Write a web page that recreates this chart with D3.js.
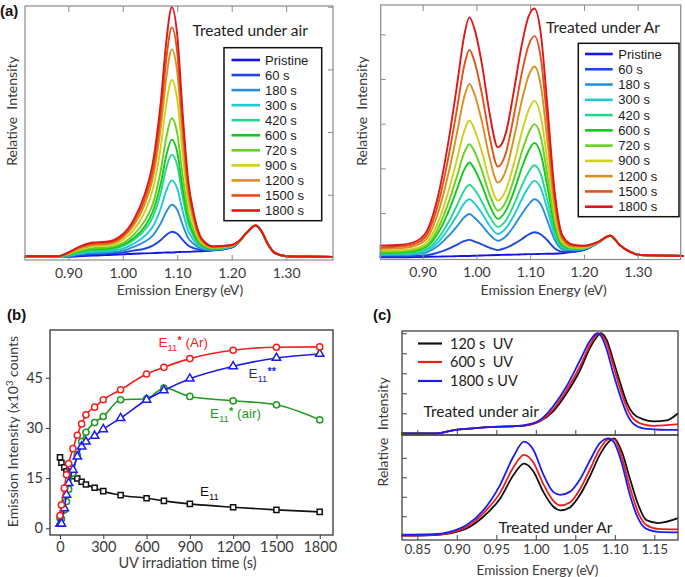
<!DOCTYPE html>
<html><head><meta charset="utf-8">
<script src="https://cdn.jsdelivr.net/npm/d3@7"></script>
<style>body{margin:0;background:#fff}svg{display:block}text{white-space:pre}</style>
</head><body>
<svg id="fig" width="685" height="577"></svg>
<script>
// ---------------- DATA ----------------
// (a) legend / series
const timeLabels = ["Pristine","60 s","180 s","300 s","420 s","600 s","720 s","900 s","1200 s","1500 s","1800 s"];
const timeColors = ["#1414e6","#1c46e0","#2a8ed8","#22c8d6","#22d890","#14c81e","#68d020","#cfcf1c","#d8901e","#e05218","#e0161a"];
const specTicks = [0.90,1.00,1.10,1.20,1.30];

// (a) left: treated under air
const airEnergy = [0.82,0.88,0.90,0.92,0.945,0.97,1.00,1.02,1.04,1.055,1.07,1.08,1.09,1.10,1.11,1.12,1.13,1.145,1.165,1.20,1.213,1.228,1.244,1.256,1.266,1.28,1.30,1.386];
const airSpectra = [
 [0.01,0.01,0.01,0.02,0.03,0.04,0.05,0.06,0.065,0.07,0.075,0.08,0.08,0.085,0.09,0.09,0.095,0.10,0.11,0.16,0.24,0.40,0.51,0.40,0.22,0.07,0.02,0.01],
 [0.01,0.01,0.02,0.03,0.05,0.06,0.08,0.11,0.14,0.19,0.28,0.36,0.41,0.38,0.28,0.19,0.15,0.12,0.12,0.16,0.25,0.40,0.51,0.40,0.22,0.07,0.02,0.01],
 [0.01,0.01,0.02,0.05,0.07,0.08,0.11,0.17,0.25,0.35,0.55,0.73,0.84,0.76,0.52,0.31,0.22,0.14,0.12,0.17,0.25,0.40,0.51,0.40,0.22,0.07,0.02,0.01],
 [0.01,0.01,0.03,0.06,0.09,0.10,0.14,0.22,0.34,0.49,0.79,1.07,1.23,1.10,0.74,0.43,0.28,0.16,0.13,0.17,0.25,0.40,0.51,0.40,0.22,0.07,0.02,0.01],
 [0.01,0.01,0.04,0.08,0.11,0.12,0.18,0.28,0.44,0.64,1.04,1.43,1.64,1.47,0.97,0.55,0.34,0.18,0.14,0.18,0.25,0.40,0.51,0.40,0.22,0.07,0.02,0.01],
 [0.01,0.01,0.04,0.09,0.13,0.14,0.20,0.31,0.49,0.73,1.19,1.63,1.88,1.68,1.10,0.62,0.38,0.19,0.14,0.18,0.25,0.40,0.51,0.40,0.22,0.07,0.02,0.01],
 [0.02,0.02,0.05,0.10,0.15,0.16,0.23,0.36,0.58,0.85,1.40,1.92,2.22,1.98,1.30,0.72,0.44,0.21,0.15,0.18,0.25,0.40,0.51,0.40,0.22,0.07,0.02,0.01],
 [0.02,0.02,0.06,0.13,0.18,0.19,0.28,0.44,0.72,1.08,1.78,2.45,2.83,2.52,1.64,0.90,0.53,0.24,0.16,0.19,0.25,0.40,0.51,0.40,0.22,0.07,0.02,0.01],
 [0.02,0.02,0.07,0.14,0.20,0.21,0.32,0.51,0.84,1.26,2.09,2.87,3.32,2.96,1.92,1.04,0.61,0.27,0.17,0.19,0.25,0.40,0.51,0.40,0.22,0.07,0.02,0.01],
 [0.02,0.02,0.07,0.16,0.22,0.23,0.34,0.56,0.92,1.38,2.30,3.17,3.67,3.27,2.12,1.15,0.67,0.28,0.17,0.20,0.26,0.40,0.51,0.40,0.22,0.07,0.02,0.01],
 [0.02,0.02,0.08,0.17,0.24,0.25,0.37,0.60,1.00,1.50,2.50,3.45,3.99,3.55,2.30,1.24,0.72,0.30,0.18,0.20,0.26,0.40,0.51,0.40,0.22,0.07,0.02,0.01]
];

// (a) right: treated under Ar
const arEnergy = [0.82,0.86,0.89,0.91,0.93,0.95,0.965,0.977,0.987,0.997,1.01,1.025,1.04,1.055,1.07,1.085,1.097,1.108,1.12,1.132,1.145,1.16,1.18,1.20,1.225,1.249,1.267,1.286,1.305,1.386];
const arSpectra = [
 [0.01,0.01,0.015,0.02,0.025,0.03,0.035,0.04,0.04,0.045,0.05,0.055,0.06,0.065,0.07,0.075,0.08,0.08,0.085,0.09,0.09,0.10,0.13,0.17,0.32,0.49,0.28,0.13,0.06,0.04],
 [0.03,0.03,0.04,0.06,0.12,0.21,0.30,0.37,0.40,0.36,0.30,0.22,0.17,0.22,0.31,0.42,0.52,0.57,0.52,0.39,0.22,0.14,0.14,0.18,0.33,0.49,0.28,0.13,0.06,0.04],
 [0.06,0.06,0.08,0.13,0.28,0.51,0.72,0.90,0.98,0.89,0.73,0.51,0.38,0.48,0.71,0.99,1.19,1.31,1.19,0.83,0.42,0.19,0.17,0.19,0.33,0.49,0.28,0.13,0.06,0.04],
 [0.07,0.08,0.10,0.17,0.36,0.68,0.97,1.21,1.31,1.21,1.00,0.71,0.53,0.66,0.95,1.32,1.58,1.72,1.55,1.08,0.53,0.22,0.18,0.20,0.33,0.49,0.28,0.13,0.06,0.04],
 [0.09,0.09,0.12,0.21,0.45,0.84,1.20,1.50,1.63,1.52,1.26,0.91,0.69,0.84,1.19,1.63,1.92,2.07,1.86,1.29,0.62,0.24,0.19,0.21,0.33,0.49,0.28,0.13,0.06,0.04],
 [0.11,0.12,0.16,0.27,0.58,1.09,1.57,1.96,2.13,1.97,1.63,1.16,0.87,1.06,1.49,2.03,2.39,2.57,2.31,1.59,0.75,0.28,0.20,0.22,0.33,0.49,0.28,0.13,0.06,0.04],
 [0.13,0.14,0.19,0.31,0.69,1.30,1.87,2.34,2.54,2.36,1.96,1.40,1.05,1.26,1.77,2.39,2.79,2.99,2.69,1.84,0.86,0.31,0.21,0.22,0.34,0.49,0.28,0.13,0.06,0.04],
 [0.16,0.17,0.22,0.38,0.83,1.57,2.26,2.82,3.07,2.85,2.38,1.70,1.28,1.52,2.12,2.83,3.30,3.51,3.15,2.16,1.00,0.35,0.23,0.23,0.34,0.49,0.28,0.13,0.06,0.04],
 [0.20,0.21,0.28,0.47,1.05,1.99,2.86,3.58,3.89,3.64,3.06,2.21,1.68,1.96,2.69,3.54,4.07,4.28,3.84,2.62,1.21,0.41,0.25,0.25,0.34,0.49,0.28,0.13,0.06,0.04],
 [0.23,0.25,0.33,0.56,1.25,2.38,3.41,4.28,4.65,4.37,3.68,2.68,2.04,2.35,3.20,4.16,4.75,4.96,4.45,3.03,1.39,0.45,0.27,0.26,0.34,0.49,0.28,0.13,0.06,0.04],
 [0.27,0.29,0.38,0.65,1.45,2.75,3.95,4.95,5.38,5.10,4.35,3.20,2.47,2.80,3.75,4.80,5.40,5.58,5.00,3.40,1.55,0.50,0.29,0.27,0.35,0.49,0.28,0.13,0.06,0.04]
];

// (b) intensity vs UV time (x10^3 counts)
const uvTimes    = [0,10,30,45,60,90,120,150,180,240,300,420,600,720,900,1200,1500,1800];
const e11StarAr  = [3.8,7.0,12.0,16.0,19.3,23.8,27.8,31.2,33.9,36.2,38.4,41.4,46.1,48.1,50.7,53.2,54.1,54.2];
const e11StarStar= [1.3,1.4,6.0,10.0,13.5,17.5,21.4,24.4,25.9,27.6,29.6,32.9,38.4,41.2,44.7,48.4,50.9,52.1];
const e11StarAir = [3.0,2.8,5.5,8.0,11.7,16.5,21.9,25.9,28.7,31.6,33.4,38.4,38.7,41.9,39.4,38.1,36.9,32.4];
const e11        = [21.2,19.6,18.2,17.0,16.2,15.6,14.9,13.9,13.1,12.1,11.1,9.9,9.0,8.2,7.3,6.3,5.5,4.9];
const bXTicks = [0,300,600,900,1200,1500,1800];
const bYTicks = [0,15,30,45];

// (c) normalized spectra
const cLabels = ["120 s  UV","600 s  UV","1800 s UV"];
const cColors = ["#111111","#ee1c1c","#1c1cee"];
const cTicks = [0.85,0.90,0.95,1.00,1.05,1.10,1.15];
const cAirEnergy = [0.83,0.875,0.895,0.92,0.946,0.97,0.988,1.005,1.022,1.039,1.056,1.069,1.078,1.082,1.090,1.098,1.107,1.115,1.123,1.136,1.149,1.166,1.18];
const cAir120  = [0,0,0.03,0.05,0.065,0.07,0.08,0.12,0.22,0.40,0.63,0.86,0.97,1.00,0.93,0.73,0.50,0.31,0.20,0.14,0.12,0.13,0.20];
const cAir600  = [0,0,0.03,0.05,0.065,0.07,0.08,0.12,0.24,0.43,0.67,0.89,0.99,0.99,0.89,0.68,0.44,0.26,0.15,0.09,0.075,0.082,0.09];
const cAir1800 = [0,0,0.03,0.05,0.065,0.07,0.085,0.13,0.27,0.47,0.73,0.93,1.00,0.98,0.83,0.60,0.37,0.20,0.10,0.05,0.04,0.035,0.035];
const cArEnergy = [0.83,0.87,0.891,0.9125,0.9335,0.9547,0.9715,0.985,0.997,1.0095,1.022,1.031,1.043,1.056,1.069,1.081,1.092,1.099,1.109,1.119,1.130,1.140,1.155,1.18];
const cAr120  = [0,0.007,0.024,0.075,0.195,0.38,0.62,0.74,0.66,0.45,0.30,0.26,0.29,0.42,0.62,0.83,0.96,1.00,0.86,0.59,0.31,0.16,0.13,0.18];
const cAr600  = [0,0.008,0.03,0.09,0.23,0.44,0.70,0.83,0.75,0.53,0.36,0.31,0.34,0.48,0.69,0.89,0.99,0.99,0.80,0.50,0.23,0.11,0.07,0.065];
const cAr1800 = [0.01,0.015,0.04,0.11,0.26,0.52,0.81,0.965,0.88,0.63,0.45,0.42,0.45,0.58,0.78,0.95,1.00,0.96,0.74,0.42,0.17,0.07,0.04,0.035];

// ---------------- DRAWING ----------------
const svg = d3.select("#fig");
const AX = "Lato, 'Open Sans', sans-serif";
const LG = "'Liberation Sans', Arial, sans-serif";
const GRAY = "#3a3a3a";

function txt(x, y, s, o = {}) {
  const t = svg.append("text").attr("x", x).attr("y", y).text(s)
    .attr("font-family", o.family || AX).attr("font-size", o.size || 14)
    .attr("fill", o.fill || GRAY).attr("text-anchor", o.anchor || "start");
  if (o.weight) t.attr("font-weight", o.weight);
  return t;
}
function vtxt(cx, cy, s, size) {
  svg.append("text").attr("transform", `translate(${cx},${cy}) rotate(-90)`)
    .attr("text-anchor", "middle").attr("font-family", AX).attr("font-size", size)
    .attr("fill", GRAY).text(s);
}
function box(x0, y0, x1, y1, col, w) {
  svg.append("rect").attr("x", x0).attr("y", y0).attr("width", x1 - x0).attr("height", y1 - y0)
    .attr("fill", "none").attr("stroke", col).attr("stroke-width", w);
}

function spectraPanel(p) {
  const x = d3.scaleLinear().domain(p.xDom).range([p.x0, p.x1]);
  const y = d3.scaleLinear().domain(p.yDom).range([p.y1, p.y0]);
  const g = svg.append("g");
  const line = d3.line().x(d => x(d[0])).y(d => y(d[1])).curve(d3.curveMonotoneX);
  p.spectra.forEach((s, i) => {
    g.append("path").datum(p.energy.map((e, k) => [e, s[k]]))
      .attr("d", line).attr("fill", "none").attr("stroke", timeColors[i])
      .attr("stroke-width", 1.9).attr("stroke-linejoin", "round");
  });
  box(p.x0, p.y0, p.x1, p.y1, "#8a8a8a", 1.2);
  svg.append("g").attr("transform", `translate(0,${p.y1})`)
    .call(d3.axisBottom(x).tickValues(specTicks).tickSize(-5).tickFormat(d3.format(".2f")).tickPadding(8))
    .call(a => { a.select(".domain").remove(); a.selectAll("line").attr("stroke", "#8a8a8a");
      a.selectAll("text").attr("font-family", AX).attr("font-size", 14).attr("fill", GRAY); });
  svg.append("g").attr("transform", `translate(0,${p.y0})`)
    .call(d3.axisTop(x).tickValues(specTicks).tickSize(-6).tickFormat(""))
    .call(a => { a.select(".domain").remove(); a.selectAll("line").attr("stroke", "#8a8a8a"); });
  const yAx = p.yTickRight ? d3.axisRight(y) : d3.axisLeft(y);
  svg.append("g").attr("transform", `translate(${p.yTickRight ? p.x1 : p.x0},0)`)
    .call(yAx.tickValues(p.yTicks).tickSize(-5).tickFormat(""))
    .call(a => { a.select(".domain").remove(); a.selectAll("line").attr("stroke", "#8a8a8a"); });
  const L = p.legend;
  svg.append("rect").attr("x", L.x).attr("y", L.y).attr("width", L.w).attr("height", L.h)
    .attr("fill", "#fff").attr("stroke", "#111").attr("stroke-width", 1.5);
  timeLabels.forEach((lab, i) => {
    const yy = L.row0 + i * L.dy;
    svg.append("line").attr("x1", L.lx0).attr("x2", L.lx1).attr("y1", yy).attr("y2", yy)
      .attr("stroke", timeColors[i]).attr("stroke-width", 2.6);
    txt(L.tx, yy + 4.6, lab, { family: LG, size: 13, fill: "#1a1a1a" });
  });
  txt(p.title[0], p.title[1], p.title[2], { size: 15.5, fill: "#222" });
  txt((p.x0 + p.x1) / 2 + p.xlabDx, 295, "Emission Energy (eV)", { anchor: "middle", size: 14 });
  vtxt(p.ylabX, 111, "Relative  Intensity", 14);
}

spectraPanel({
  x0: 25, x1: 333, y0: 6, y1: 260, xDom: [0.8205, 1.386], yDom: [-0.04, 4.011],
  energy: airEnergy, spectra: airSpectra, yTicks: [1, 2, 3, 4], yTickRight: true,
  legend: { x: 224, y: 47.7, w: 97.7, h: 173, row0: 60, dy: 15.05, lx0: 231.5, lx1: 260, tx: 265 },
  title: [192.5, 36, "Treated under air"], xlabDx: 1, ylabX: 17
});
spectraPanel({
  x0: 380.7, x1: 680.7, y0: 5, y1: 259.5, xDom: [0.822, 1.38], yDom: [-0.04, 5.657],
  energy: arEnergy, spectra: arSpectra, yTicks: [1, 2, 3, 4, 5], yTickRight: false,
  legend: { x: 578.3, y: 43.3, w: 100.7, h: 173.4, row0: 54, dy: 15.27, lx0: 585, lx1: 612.7, tx: 618.3 },
  title: [546, 33, "Treated under Ar"], xlabDx: 13, ylabX: 367
});
txt(0, 16, "(a)", { weight: "bold", size: 15, fill: "#111", family: LG });

// ---------- (b) ----------
(function () {
  const x0 = 50, x1 = 333, y0 = 330, y1 = 535;
  const x = d3.scaleLinear().domain([-69.2, 1892]).range([x0, x1]);
  const y = d3.scaleLinear().domain([-2.0, 59.25]).range([y1, y0]);
  const line = d3.line().x(d => x(d[0])).y(d => y(d[1])).curve(d3.curveMonotoneX);
  const series = [
    { v: e11, c: "#111111", m: "square" },
    { v: e11StarAir, c: "#1f9a1f", m: "circle" },
    { v: e11StarStar, c: "#1c1cf0", m: "triangle" },
    { v: e11StarAr, c: "#f02020", m: "circle" }
  ];
  series.forEach(s => {
    const pts = uvTimes.map((t, i) => [t, s.v[i]]);
    svg.append("path").datum(pts).attr("d", line).attr("fill", "none")
      .attr("stroke", s.c).attr("stroke-width", 1.6);
    const sym = s.m === "square" ? d3.symbolSquare : s.m === "triangle" ? d3.symbolTriangle : d3.symbolCircle;
    const size = s.m === "square" ? 26 : s.m === "triangle" ? 30 : 30;
    svg.append("g").selectAll("path").data(pts).join("path")
      .attr("transform", d => `translate(${x(d[0])},${y(d[1])})`)
      .attr("d", d3.symbol().type(sym).size(size))
      .attr("fill", "#fff").attr("stroke", s.c).attr("stroke-width", 1.5);
  });
  box(x0, y0, x1, y1, "#333", 1.3);
  svg.append("g").attr("transform", `translate(0,${y1})`)
    .call(d3.axisBottom(x).tickValues(bXTicks).tickSize(4).tickPadding(3).tickFormat(d3.format("d")))
    .call(a => { a.select(".domain").remove(); a.selectAll("line").attr("stroke", "#333");
      a.selectAll("text").attr("font-family", AX).attr("font-size", 14.5).attr("fill", GRAY); });
  svg.append("g").attr("transform", `translate(${x0},0)`)
    .call(d3.axisLeft(y).tickValues(bYTicks).tickSize(4).tickPadding(3))
    .call(a => { a.select(".domain").remove(); a.selectAll("line").attr("stroke", "#333");
      a.selectAll("text").attr("font-family", AX).attr("font-size", 14.5).attr("fill", GRAY); });
  txt(187.5, 568, "UV irradiation time (s)", { anchor: "middle", size: 14.5 });
  svg.append("text").attr("transform", "translate(18,431.5) rotate(-90)").attr("text-anchor", "middle")
    .attr("font-family", AX).attr("font-size", 14).attr("fill", GRAY)
    .call(t => { t.append("tspan").text("Emission Intensity (x10");
      t.append("tspan").attr("dy", -5).attr("font-size", 9.5).text("3");
      t.append("tspan").attr("dy", 5).text(" counts"); });
  function eLabel(x, yb, col, sup, tail) {
    const t = svg.append("text").attr("x", x).attr("y", yb).attr("font-family", LG)
      .attr("font-size", 13.5).attr("fill", col);
    t.append("tspan").text("E");
    t.append("tspan").attr("dy", 4).attr("font-size", 9.5).text("11");
    if (sup) t.append("tspan").attr("dy", -7).attr("font-size", 11).attr("font-weight", "bold").text(sup);
    if (tail) t.append("tspan").attr("dy", sup ? 3 : -4).text(tail);
  }
  eLabel(158.5, 347, "#f02020", "*", " (Ar)");
  eLabel(248.5, 378, "#1c1cf0", "**", "");
  eLabel(210, 418, "#1f9a1f", "*", " (air)");
  eLabel(200, 496, "#111", "", "");
  txt(7, 320, "(b)", { weight: "bold", size: 15, fill: "#111", family: LG });
})();

// ---------- (c) ----------
(function () {
  const x0 = 402, x1 = 678, yTop = 331, yMid = 435, yBot = 540;
  const x = d3.scaleLinear().domain([0.8306, 1.18]).range([x0, x1]);
  const yA = d3.scaleLinear().domain([-0.017, 1.0226]).range([yMid, yTop]);
  const yB = d3.scaleLinear().domain([-0.044, 1.034]).range([yBot, yMid]);
  const mk = (ys) => d3.line().x(d => x(d[0])).y(d => ys(d[1])).curve(d3.curveMonotoneX);
  [cAir120, cAir600, cAir1800].forEach((s, i) => {
    svg.append("path").datum(cAirEnergy.map((e, k) => [e, s[k]])).attr("d", mk(yA))
      .attr("fill", "none").attr("stroke", cColors[i]).attr("stroke-width", 1.8);
  });
  [cAr120, cAr600, cAr1800].forEach((s, i) => {
    svg.append("path").datum(cArEnergy.map((e, k) => [e, s[k]])).attr("d", mk(yB))
      .attr("fill", "none").attr("stroke", cColors[i]).attr("stroke-width", 1.8);
  });
  box(x0, yTop, x1, yMid, "#444", 1.3);
  box(x0, yMid, x1, yBot, "#444", 1.3);
  svg.append("g").attr("transform", `translate(0,${yBot})`)
    .call(d3.axisBottom(x).tickValues(cTicks).tickSize(-5).tickPadding(4).tickFormat(d3.format(".2f")))
    .call(a => { a.select(".domain").remove(); a.selectAll("line").attr("stroke", "#444");
      a.selectAll("text").attr("font-family", AX).attr("font-size", 13.5).attr("fill", GRAY); });
  svg.append("g").attr("transform", `translate(0,${yMid})`)
    .call(d3.axisBottom(x).tickValues(cTicks).tickSize(-5).tickFormat(""))
    .call(a => { a.select(".domain").remove(); a.selectAll("line").attr("stroke", "#444"); });
  svg.append("g").attr("transform", `translate(${x0},0)`)
    .call(d3.axisLeft(yA).tickValues([0.2, 0.4, 0.6, 0.8, 1.0]).tickSize(-5).tickFormat(""))
    .call(a => { a.select(".domain").remove(); a.selectAll("line").attr("stroke", "#444"); });
  svg.append("g").attr("transform", `translate(${x0},0)`)
    .call(d3.axisLeft(yB).tickValues([0.2, 0.4, 0.6, 0.8]).tickSize(-5).tickFormat(""))
    .call(a => { a.select(".domain").remove(); a.selectAll("line").attr("stroke", "#444"); });
  cLabels.forEach((lab, i) => {
    const yy = [343.5, 362, 381][i];
    svg.append("line").attr("x1", 418).attr("x2", 442).attr("y1", yy).attr("y2", yy)
      .attr("stroke", cColors[i]).attr("stroke-width", 2.2);
    txt(450, yy + 5, lab, { size: 14.5, fill: "#222" });
  });
  txt(423.5, 417, "Treated under air", { size: 15.5, fill: "#222" });
  txt(498.5, 533, "Treated under Ar", { size: 15.5, fill: "#222" });
  txt(537.5, 574.5, "Emission Energy (eV)", { anchor: "middle", size: 13.5 });
  vtxt(388, 431.7, "Relative  Intensity", 14);
  txt(373, 320, "(c)", { weight: "bold", size: 15, fill: "#111", family: LG });
})();
</script>
</body></html>
